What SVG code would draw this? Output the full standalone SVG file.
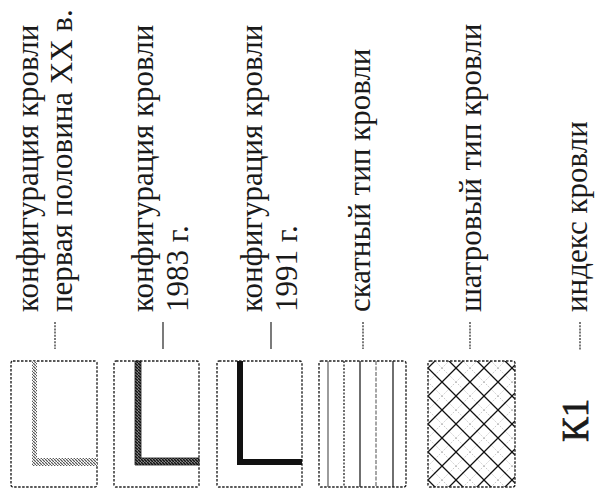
<svg xmlns="http://www.w3.org/2000/svg" width="596" height="491" viewBox="0 0 596 491">
<style>
  .t { font-family: "Liberation Serif", "Times New Roman", serif; font-size: 31px; fill: #1a1a1a; }
  .k { font-family: "Liberation Serif", "Times New Roman", serif; font-size: 37px; fill: #1a1a1a; stroke: #1a1a1a; stroke-width: 0.7; }
  .box { fill: #fff; stroke: #222; stroke-width: 1.4; stroke-dasharray: 2.5 1.5; }
  .frame { fill: none; stroke: #222; stroke-width: 1.4; stroke-dasharray: 2.5 1.5; }
  .dash { stroke: #333; stroke-width: 1.3; }
  .dotted { stroke-dasharray: 2 1.2; }
</style>
<defs>
  <pattern id="h1" patternUnits="userSpaceOnUse" width="3" height="3">
    <rect width="3" height="3" fill="#fff"/>
    <path d="M0,0 L3,3" stroke="#555" stroke-width="1.2"/>
  </pattern>
  <pattern id="h2" patternUnits="userSpaceOnUse" width="3" height="3">
    <rect width="3" height="3" fill="#888"/>
    <path d="M0,0 L3,3" stroke="#111" stroke-width="1.4"/>
  </pattern>
  <pattern id="grid" patternUnits="userSpaceOnUse" x="428" y="368" width="28" height="28">
    <path d="M0,14 L14,28 M14,0 L28,14 M14,0 L0,14 M28,14 L14,28" stroke="#aaa" stroke-width="0.7" stroke-dasharray="1.5 1.5" fill="none"/>
    <path d="M0,0 L28,28 M28,0 L0,28" stroke="#111" stroke-width="1.3" fill="none"/>
  </pattern>
</defs>
<rect width="596" height="491" fill="#fff"/>

<g id="item1">
  <rect class="box" x="11" y="361" width="86" height="126" rx="2"/>
  <path d="M32,361 H37 V458 H97 V466 H32 Z" fill="url(#h1)"/>
  <text class="t" transform="translate(38,312) rotate(-90)">конфигурация кровли</text>
  <text class="t" transform="translate(72,312) rotate(-90)">первая половина XX в.</text>
</g>

<g id="item2">
  <rect class="box" x="114" y="361" width="85" height="126" rx="2"/>
  <path d="M135,361 H141 V458 H199 V465 H135 Z" fill="url(#h2)" stroke="#111" stroke-width="0.8"/>
  <text class="t" transform="translate(153,312) rotate(-90)">конфигурация кровли</text>
  <text class="t" transform="translate(188,312) rotate(-90)">1983 г.</text>
</g>

<g id="item3">
  <rect class="box" x="217" y="361" width="85" height="126" rx="2"/>
  <path d="M237,361 H243 V459 H302 V465 H237 Z" fill="#111"/>
  <text class="t" transform="translate(262,312) rotate(-90)">конфигурация кровли</text>
  <text class="t" transform="translate(297,312) rotate(-90)">1991 г.</text>
</g>

<g id="item4">
  <rect class="box" x="319" y="361" width="87" height="126" rx="2"/>
  <g stroke-width="1.3">
    <line x1="328" y1="361" x2="328" y2="487" stroke="#666"/>
    <line x1="344" y1="361" x2="344" y2="487" stroke="#222" stroke-dasharray="2 1.5"/>
    <line x1="360" y1="361" x2="360" y2="487" stroke="#222"/>
    <line x1="376" y1="361" x2="376" y2="487" stroke="#777" stroke-dasharray="4 1.5"/>
    <line x1="393" y1="361" x2="393" y2="487" stroke="#222"/>
  </g>
  <text class="t" transform="translate(370,312) rotate(-90)">скатный тип кровли</text>
</g>

<g id="item5">
  <rect x="428" y="361" width="87" height="126" fill="url(#grid)"/>
  <rect class="frame" x="428" y="361" width="87" height="126" rx="2"/>
  <text class="t" transform="translate(481,312) rotate(-90)">шатровый тип кровли</text>
</g>

<g id="item6">
  <text class="k" transform="translate(588,442) rotate(-90)">К1</text>
  <text class="t" transform="translate(587,312) rotate(-90)">индекс кровли</text>
</g>

<g id="connectors">
  <line class="dash dotted" x1="55" y1="322" x2="55" y2="349"/>
  <line class="dash" x1="163" y1="322" x2="163" y2="349"/>
  <line class="dash" x1="271" y1="322" x2="271" y2="349"/>
  <line class="dash dotted" x1="363" y1="322" x2="363" y2="349"/>
  <line class="dash dotted" x1="470" y1="322" x2="470" y2="349"/>
  <line class="dash dotted" x1="580" y1="322" x2="580" y2="350"/>
</g>
</svg>
